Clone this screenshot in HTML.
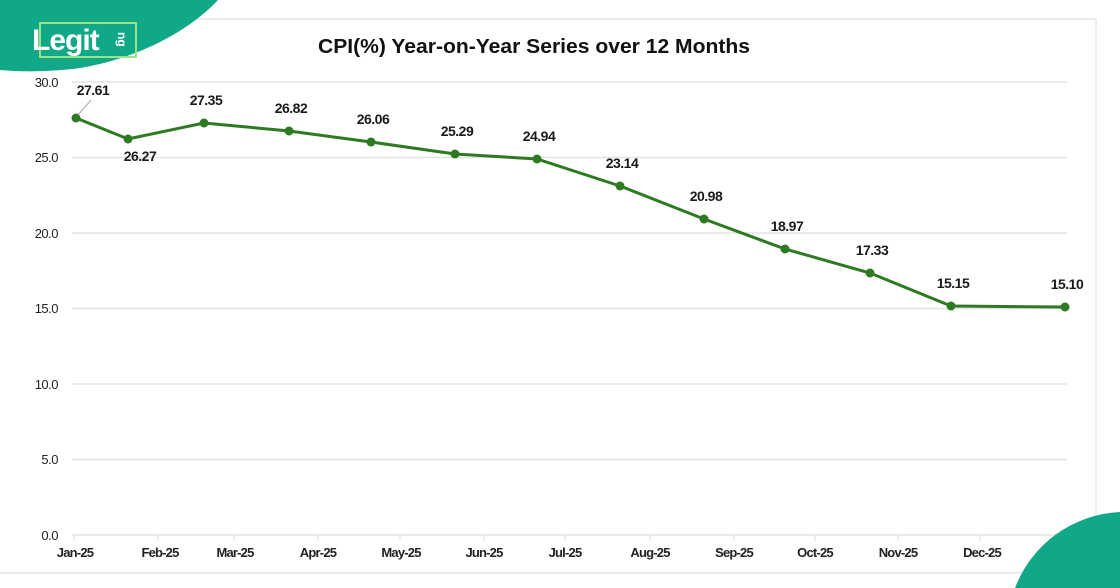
<!DOCTYPE html>
<html><head><meta charset="utf-8"><style>
html,body{margin:0;padding:0;background:#fff;width:1120px;height:588px;overflow:hidden;}
svg{display:block;font-family:"Liberation Sans",sans-serif;overflow:hidden;}
</style></head><body>
<svg width="1120" height="588" viewBox="0 0 1120 588">
<rect width="1120" height="588" fill="#fff"/>
<path d="M0 573 H1096 V19 H100" fill="none" stroke="#e6e6e6" stroke-width="1.5"/>
<g stroke="#e3e3e3" stroke-width="1.5">
<line x1="72" y1="82" x2="1067" y2="82"/>
<line x1="72" y1="157.5" x2="1067" y2="157.5"/>
<line x1="72" y1="233" x2="1067" y2="233"/>
<line x1="72" y1="308.5" x2="1067" y2="308.5"/>
<line x1="72" y1="384" x2="1067" y2="384"/>
<line x1="72" y1="459.5" x2="1067" y2="459.5"/>
<line x1="72" y1="535" x2="1067" y2="535"/>
</g>
<g stroke="#e0e0e0" stroke-width="1.2">
<line x1="74" y1="535" x2="74" y2="541"/><line x1="158" y1="535" x2="158" y2="541"/><line x1="234" y1="535" x2="234" y2="541"/><line x1="318" y1="535" x2="318" y2="541"/><line x1="400" y1="535" x2="400" y2="541"/><line x1="484" y1="535" x2="484" y2="541"/><line x1="565" y1="535" x2="565" y2="541"/><line x1="650" y1="535" x2="650" y2="541"/><line x1="734" y1="535" x2="734" y2="541"/><line x1="815" y1="535" x2="815" y2="541"/><line x1="898" y1="535" x2="898" y2="541"/><line x1="980" y1="535" x2="980" y2="541"/><line x1="1065" y1="535" x2="1065" y2="541"/>
</g>
<g font-size="13" fill="#222" text-anchor="end" letter-spacing="-0.5">
<text x="58" y="87">30.0</text><text x="58" y="162">25.0</text><text x="58" y="238">20.0</text><text x="58" y="313">15.0</text><text x="58" y="389">10.0</text><text x="58" y="464">5.0</text><text x="58" y="540">0.0</text>
</g>
<g font-size="13" font-weight="bold" fill="#222" text-anchor="middle" letter-spacing="-0.8">
<text x="75" y="557">Jan-25</text><text x="160" y="557">Feb-25</text><text x="235" y="557">Mar-25</text><text x="318" y="557">Apr-25</text><text x="401" y="557">May-25</text><text x="484" y="557">Jun-25</text><text x="565" y="557">Jul-25</text><text x="650" y="557">Aug-25</text><text x="734" y="557">Sep-25</text><text x="815" y="557">Oct-25</text><text x="898" y="557">Nov-25</text><text x="982" y="557">Dec-25</text>
</g>
<text x="318" y="53" font-size="20" font-weight="bold" fill="#111" textLength="432" lengthAdjust="spacingAndGlyphs">CPI(%) Year-on-Year Series over 12 Months</text>
<polyline fill="none" stroke="#2e7a22" stroke-width="3" points="76,118 128,139 204,123 289,131 371,142 455,154 537,159 620,186 704,219 785,249 870,273 951,306 1065,307"/>
<g fill="#2e7a22">
<circle cx="76" cy="118" r="4.5"/><circle cx="128" cy="139" r="4.5"/><circle cx="204" cy="123" r="4.5"/><circle cx="289" cy="131" r="4.5"/><circle cx="371" cy="142" r="4.5"/><circle cx="455" cy="154" r="4.5"/><circle cx="537" cy="159" r="4.5"/><circle cx="620" cy="186" r="4.5"/><circle cx="704" cy="219" r="4.5"/><circle cx="785" cy="249" r="4.5"/><circle cx="870" cy="273" r="4.5"/><circle cx="951" cy="306" r="4.5"/><circle cx="1065" cy="307" r="4.5"/>
</g>
<line x1="78" y1="115" x2="91" y2="100" stroke="#aaa" stroke-width="1"/>
<g font-size="14" font-weight="bold" fill="#1a1a1a" text-anchor="middle" letter-spacing="-0.5">
<text x="93" y="95">27.61</text><text x="140" y="161">26.27</text><text x="206" y="105">27.35</text><text x="291" y="113">26.82</text><text x="373" y="124">26.06</text><text x="457" y="136">25.29</text><text x="539" y="141">24.94</text><text x="622" y="168">23.14</text><text x="706" y="201">20.98</text><text x="787" y="231">18.97</text><text x="872" y="255">17.33</text><text x="953" y="288">15.15</text><text x="1067" y="289">15.10</text>
</g>
<path d="M0 0 H218 C190 30 140 58 80 68 C50 72 20 72 0 70 Z" fill="#10a887"/>
<rect x="40" y="23" width="96" height="34" fill="none" stroke="#9be28a" stroke-width="2"/>
<text x="32" y="50" font-size="30" font-weight="bold" fill="#fff" letter-spacing="-1">Legit</text>
<text x="118" y="40" font-size="12" font-weight="bold" fill="#fff" transform="rotate(90 122 36)">ng</text>
<path d="M1015 588 A118 118 0 0 1 1120 512 V588 Z" fill="#10a887"/>
</svg>
</body></html>
